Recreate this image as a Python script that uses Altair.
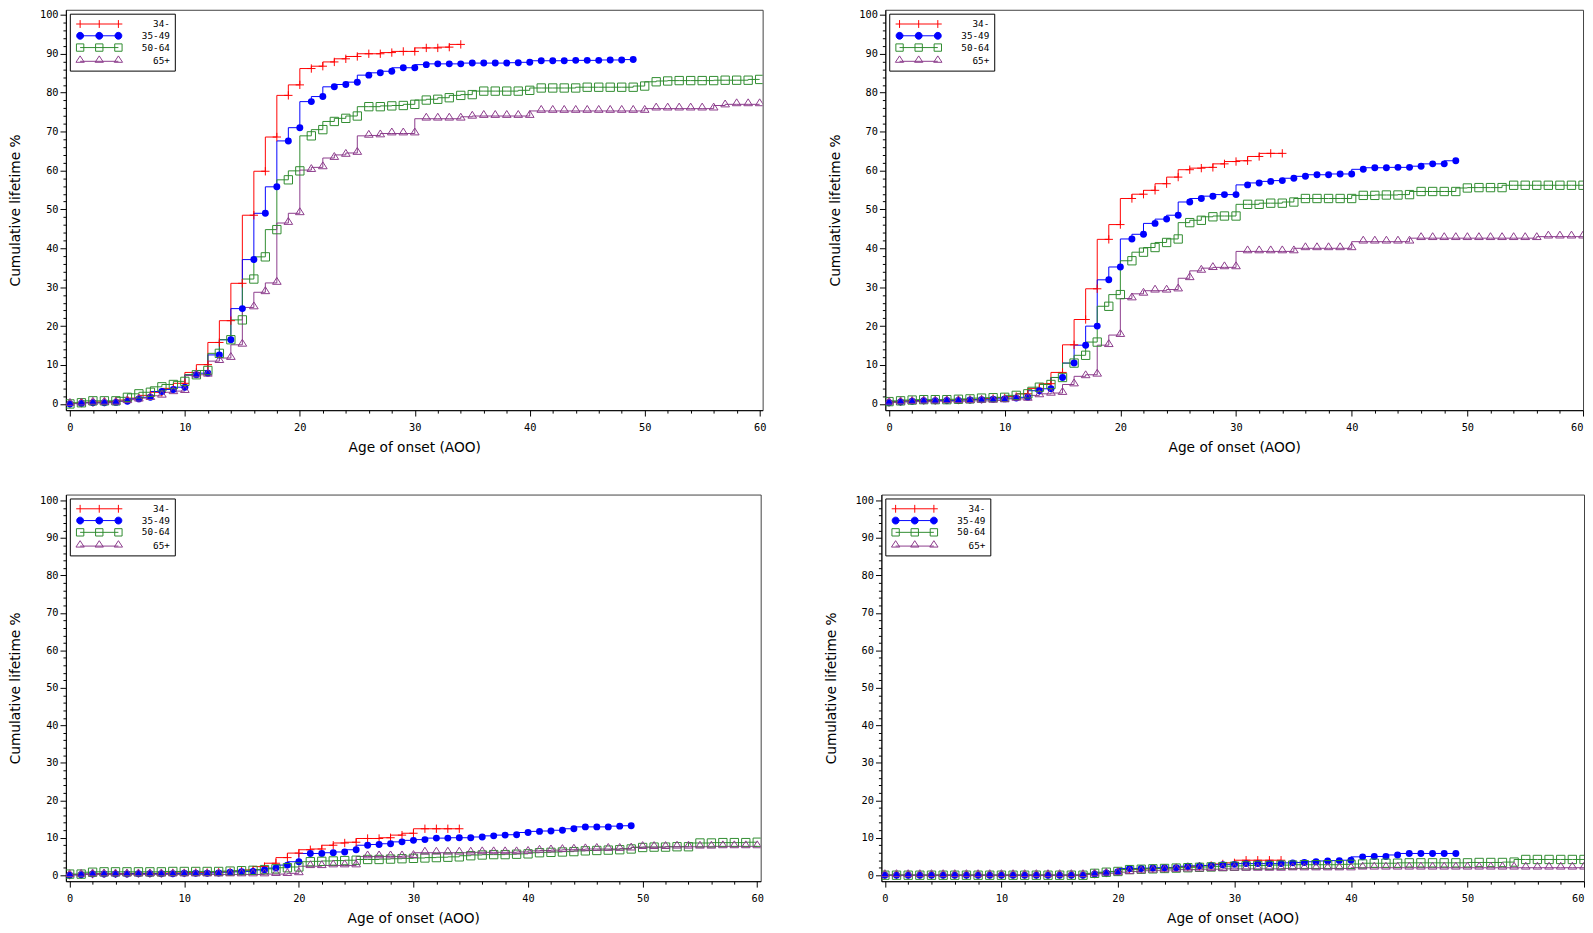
import altair as alt
import pandas as pd

GROUPS = ["34-", "35-49", "50-64", "65+"]
COLORS = ["#ff0000", "#0000ff", "#2e8b2e", "#8b3a8b"]
MARKERS = ["M-1,0H1M0,-1V1", "circle", "square", "M0,-1.4L1.1,0.35H-1.1Z"]
MARKER_FILLED = [False, True, False, False]
MARKER_FILL = ["transparent", "#0000ff", "transparent", "transparent"]
MARKER_SIZE = [72, 50, 72, 64]

X_MAJOR = [0, 10, 20, 30, 40, 50, 60]
X_MINOR = [v for v in range(0, 61, 2) if v % 10]
Y_MAJOR = [0, 10, 20, 30, 40, 50, 60, 70, 80, 90, 100]
Y_MINOR = [v for v in range(0, 101, 2) if v % 10]

X_TITLE = "Age of onset (AOO)"
Y_TITLE = "Cumulative lifetime %"

# ---------------- panel 1 (top left) ----------------
P1_34 = [0.0, 0.2, 0.4, 0.5, 0.6, 1.0, 1.5, 2.2, 3.0, 4.0,
         5.3, 8.1, 10.1, 15.8, 21.4, 31.0, 48.5, 59.8, 68.6, 79.3,
         82.0, 86.2, 86.8, 87.9, 88.7, 89.3, 90.0, 90.0, 90.3, 90.6,
         90.6, 91.5, 91.5, 91.7, 92.4]
P1_35 = [0.0, 0.1, 0.3, 0.3, 0.4, 0.7, 1.3, 1.7, 3.2, 3.7,
         4.3, 7.5, 7.9, 12.6, 16.5, 24.5, 37.1, 49.0, 55.8, 67.6,
         71.0, 77.7, 79.0, 81.5, 82.1, 82.7, 84.5, 85.1, 85.5, 86.4,
         86.4, 87.2, 87.4, 87.4, 87.4, 87.6, 87.6, 87.6, 87.6, 87.7,
         87.8, 88.2, 88.2, 88.2, 88.3, 88.3, 88.3, 88.4, 88.4, 88.5]
P1_50 = [0.0, 0.3, 0.8, 0.8, 0.8, 1.7, 2.6, 3.0, 4.4, 5.0,
         5.8, 7.5, 8.6, 13.0, 16.5, 21.6, 32.1, 37.8, 44.8, 57.6,
         59.9, 68.9, 70.5, 72.6, 73.4, 74.0, 76.4, 76.4, 76.6, 76.7,
         77.0, 78.1, 78.3, 78.7, 79.3, 79.5, 80.4, 80.4, 80.4, 80.4,
         80.6, 81.2, 81.2, 81.2, 81.2, 81.4, 81.4, 81.4, 81.4, 81.4,
         81.7, 82.8, 83.0, 83.1, 83.1, 83.1, 83.1, 83.2, 83.2, 83.2, 83.4]
P1_65 = [0.0, 0.1, 0.3, 0.3, 0.3, 0.7, 1.1, 1.5, 2.1, 3.0,
         3.3, 7.3, 7.5, 11.0, 11.8, 15.2, 24.8, 28.7, 31.1, 46.5,
         49.0, 60.1, 60.8, 63.2, 64.0, 64.5, 68.9, 69.0, 69.5, 69.5,
         69.5, 73.3, 73.3, 73.3, 73.3, 73.8, 74.0, 74.0, 74.0, 74.0,
         74.0, 75.3, 75.3, 75.3, 75.3, 75.3, 75.3, 75.3, 75.3, 75.3,
         75.3, 75.9, 75.9, 75.9, 75.9, 75.9, 75.9, 76.7, 77.0, 77.0, 77.0]

# ---------------- panel 2 (top right) ----------------
P2_34 = [0.4, 0.6, 0.8, 0.9, 0.9, 1.0, 1.0, 1.1, 1.2, 1.4,
         1.6, 1.9, 2.6, 4.0, 5.2, 8.1, 15.2, 21.7, 29.6, 42.3,
         46.1, 52.8, 53.9, 54.9, 56.6, 58.3, 60.2, 60.6, 60.8, 61.7,
         62.3, 62.5, 63.6, 64.4, 64.4]
P2_35 = [0.3, 0.5, 0.7, 0.8, 0.8, 0.9, 0.9, 1.0, 1.1, 1.2,
         1.3, 1.5, 1.7, 3.4, 3.9, 6.8, 10.5, 15.1, 20.0, 31.9,
         35.2, 42.4, 43.6, 46.4, 47.5, 48.5, 51.9, 52.8, 53.4, 53.8,
         53.8, 56.3, 56.8, 57.2, 57.4, 58.0, 58.5, 58.9, 58.9, 59.1,
         59.1, 60.3, 60.7, 60.7, 60.8, 60.8, 61.1, 61.7, 61.7, 62.5]
P2_50 = [0.6, 0.8, 1.0, 1.1, 1.1, 1.1, 1.2, 1.3, 1.5, 1.6,
         1.7, 2.2, 2.6, 4.3, 5.0, 6.8, 10.5, 12.5, 15.9, 25.1,
         28.1, 36.8, 39.0, 40.2, 41.5, 42.4, 46.6, 47.2, 48.1, 48.3,
         48.3, 51.3, 51.3, 51.6, 51.6, 51.9, 52.8, 52.8, 52.8, 52.8,
         52.8, 53.6, 53.6, 53.7, 53.7, 53.8, 54.6, 54.6, 54.6, 54.6,
         55.5, 55.6, 55.6, 55.6, 56.2, 56.2, 56.2, 56.2, 56.2, 56.2, 56.2]
P2_65 = [0.3, 0.4, 0.5, 0.6, 0.6, 0.7, 0.7, 0.7, 0.8, 0.8,
         0.9, 1.3, 1.3, 2.2, 2.6, 2.8, 5.0, 7.1, 7.5, 15.1,
         17.7, 27.1, 28.3, 29.1, 29.1, 29.4, 32.3, 34.2, 34.9, 35.1,
         35.1, 39.2, 39.2, 39.2, 39.2, 39.2, 40.0, 40.0, 40.0, 40.0,
         40.0, 41.7, 41.7, 41.7, 41.7, 41.7, 42.6, 42.6, 42.6, 42.6,
         42.6, 42.6, 42.6, 42.6, 42.6, 42.6, 42.6, 43.0, 43.0, 43.0, 43.0]

# ---------------- panel 3 (bottom left) ----------------
P3_34 = [0.0, 0.2, 0.3, 0.4, 0.4, 0.4, 0.5, 0.5, 0.5, 0.6,
         0.6, 0.7, 0.7, 0.8, 0.9, 1.1, 1.4, 2.3, 3.2, 4.7,
         5.9, 6.8, 7.0, 8.0, 8.6, 8.8, 9.8, 9.8, 10.0, 10.7,
         11.2, 12.4, 12.4, 12.4, 12.4]
P3_35 = [0.0, 0.1, 0.3, 0.3, 0.3, 0.3, 0.4, 0.4, 0.4, 0.4,
         0.5, 0.5, 0.5, 0.6, 0.8, 0.9, 1.0, 1.4, 1.9, 2.7,
         3.6, 5.8, 5.8, 6.0, 6.2, 6.8, 8.0, 8.2, 8.4, 8.9,
         9.3, 9.5, 9.9, 9.9, 10.0, 10.0, 10.2, 10.5, 10.7, 10.8,
         11.4, 11.7, 11.8, 12.0, 12.4, 12.9, 12.9, 12.9, 13.1, 13.2]
P3_50 = [0.3, 0.3, 0.8, 0.9, 0.9, 0.9, 0.9, 0.9, 0.9, 1.0,
         1.0, 1.0, 1.0, 1.0, 1.1, 1.2, 1.3, 1.5, 1.7, 2.0,
         2.2, 3.6, 3.7, 3.8, 3.9, 4.0, 4.2, 4.2, 4.3, 4.4,
         4.5, 4.6, 4.7, 4.8, 4.9, 5.2, 5.4, 5.5, 5.5, 5.6,
         5.7, 6.0, 6.1, 6.2, 6.3, 6.5, 6.6, 6.7, 6.8, 7.0,
         7.4, 7.5, 7.5, 7.6, 7.6, 8.6, 8.6, 8.7, 8.7, 8.7, 8.8]
P3_65 = [0.0, 0.1, 0.2, 0.2, 0.2, 0.2, 0.2, 0.2, 0.2, 0.2,
         0.2, 0.2, 0.2, 0.2, 0.2, 0.2, 0.2, 0.2, 0.3, 0.3,
         0.5, 2.4, 2.4, 2.6, 2.6, 2.6, 5.0, 5.0, 5.0, 5.0,
         5.1, 6.0, 6.0, 6.0, 6.0, 6.0, 6.1, 6.1, 6.1, 6.1,
         6.2, 6.5, 6.6, 6.7, 6.8, 6.9, 7.0, 7.0, 7.0, 7.1,
         7.5, 7.5, 7.5, 7.6, 7.6, 7.6, 7.6, 7.7, 7.7, 7.7, 7.7]

# ---------------- panel 4 (bottom right) ----------------
P4_34 = [0.0, 0.0, 0.0, 0.0, 0.0, 0.0, 0.0, 0.0, 0.0, 0.0,
         0.0, 0.0, 0.0, 0.0, 0.0, 0.0, 0.0, 0.0, 0.3, 0.6,
         1.0, 1.5, 1.6, 1.7, 1.8, 2.0, 2.2, 2.4, 2.6, 3.0,
         3.3, 4.0, 4.0, 4.0, 4.0]
P4_35 = [0.0, 0.0, 0.0, 0.0, 0.0, 0.0, 0.0, 0.0, 0.0, 0.0,
         0.0, 0.0, 0.0, 0.0, 0.0, 0.0, 0.0, 0.0, 0.3, 0.6,
         0.9, 1.8, 1.8, 1.9, 2.0, 2.0, 2.4, 2.5, 2.6, 2.8,
         2.9, 3.1, 3.1, 3.1, 3.1, 3.3, 3.4, 3.6, 3.8, 3.9,
         4.0, 4.9, 5.0, 5.0, 5.4, 5.8, 5.8, 5.8, 5.8, 5.8]
P4_50 = [0.0, 0.0, 0.0, 0.0, 0.0, 0.0, 0.0, 0.0, 0.0, 0.0,
         0.0, 0.0, 0.0, 0.0, 0.0, 0.0, 0.0, 0.0, 0.5, 0.8,
         1.0, 1.5, 1.6, 1.7, 1.8, 1.9, 2.0, 2.1, 2.2, 2.3,
         2.4, 2.5, 2.6, 2.6, 2.7, 2.7, 2.8, 2.8, 2.8, 2.8,
         2.9, 3.0, 3.2, 3.2, 3.2, 3.3, 3.3, 3.3, 3.3, 3.3,
         3.3, 3.4, 3.4, 3.4, 3.5, 4.2, 4.2, 4.2, 4.2, 4.2, 4.2]
P4_65 = [0.0, 0.0, 0.0, 0.0, 0.0, 0.0, 0.0, 0.0, 0.0, 0.0,
         0.0, 0.0, 0.0, 0.0, 0.0, 0.0, 0.0, 0.0, 0.2, 0.4,
         0.5, 0.8, 1.0, 1.2, 1.3, 1.4, 1.5, 1.5, 1.6, 1.6,
         1.7, 1.7, 1.7, 1.7, 1.7, 1.8, 1.8, 1.8, 1.8, 1.8,
         1.8, 2.0, 2.0, 2.0, 2.0, 2.0, 2.0, 2.0, 2.0, 2.0,
         2.0, 2.0, 2.0, 2.0, 2.0, 2.0, 2.0, 2.0, 2.0, 2.0, 2.0]

# legend symbols: a short line with three markers (custom paths, unit = 5px)
LEG_PATHS = [
    "M0,0H7.8M0,-0.8V0.8M3.9,-0.8V0.8M7.8,-0.8V0.8M-0.8,0H0M7.8,0H8.6",
    "M0,0H7.8M-0.7,0A0.7,0.7 0 1,0 0.7,0A0.7,0.7 0 1,0 -0.7,0ZM3.2,0A0.7,0.7 0 1,0 4.6,0A0.7,0.7 0 1,0 3.2,0ZM7.1,0A0.7,0.7 0 1,0 8.5,0A0.7,0.7 0 1,0 7.1,0Z",
    "M0,0H7.8M-0.75,-0.75H0.75V0.75H-0.75ZM3.15,-0.75H4.65V0.75H3.15ZM7.05,-0.75H8.55V0.75H7.05Z",
    "M0,0H7.8M0,-1.1L0.85,0.2H-0.85ZM3.9,-1.1L4.75,0.2H3.05ZM7.8,-1.1L8.65,0.2H6.95Z",
]

LEGEND = alt.Legend(title=None, orient="top-left", offset=4, padding=5, rowPadding=0,
                    symbolSize=100, symbolStrokeWidth=1, labelFont="DejaVu Sans Mono",
                    labelFontSize=9.5, labelColor="black", labelOffset=86, labelAlign="right",
                    strokeColor="black", fillColor="white", cornerRadius=0)


def panel(series, xdom, ydom, w, h):
    rows = []
    for g, vals in zip(GROUPS, series):
        for age, v in enumerate(vals):
            rows.append({"age": age, "value": v, "group": g})
    df = pd.DataFrame(rows)
    xs = alt.Scale(domain=xdom, nice=False, zero=False)
    ys = alt.Scale(domain=ydom, nice=False, zero=False)
    color = alt.Color("group:N", scale=alt.Scale(domain=GROUPS, range=COLORS), legend=LEGEND)
    base = alt.Chart(df)
    lines = base.mark_line(interpolate="step-before", strokeWidth=1, clip=True).encode(
        x=alt.X("age:Q", scale=xs, axis=alt.Axis(values=X_MAJOR, title=X_TITLE, orient="bottom",
                                                 tickSize=6, labelPadding=7, titlePadding=8,
                                                 labelFlush=True, labelOverlap=False, grid=False)),
        y=alt.Y("value:Q", scale=ys, axis=alt.Axis(values=Y_MAJOR, title=Y_TITLE, orient="left",
                                                   tickSize=6, labelPadding=2, titlePadding=17,
                                                   labelOverlap=False, grid=False)),
        color=color,
    )
    layers = [lines]
    for i, g in enumerate(GROUPS):
        if i == 0:
            xa = alt.Axis(values=X_MINOR, title=None, orient="bottom", labels=False,
                          domain=False, tickSize=3, grid=False)
            ya = alt.Axis(values=Y_MINOR, title=None, orient="left", labels=False,
                          domain=False, tickSize=3, grid=False)
        else:
            xa = None
            ya = None
        pts = base.transform_filter(alt.datum.group == g).mark_point(
            shape=MARKERS[i], color=COLORS[i], filled=MARKER_FILLED[i], size=MARKER_SIZE[i],
            strokeWidth=1, opacity=1, clip=True).encode(
            x=alt.X("age:Q", scale=xs, axis=xa),
            y=alt.Y("value:Q", scale=ys, axis=ya),
        )
        layers.append(pts)
    # legend carrier: no rows pass the filter, it only supplies the legend's symbols
    key = base.transform_filter("false").mark_point(filled=False, strokeWidth=1, opacity=1).encode(
        x=alt.X("age:Q", scale=xs, axis=None),
        y=alt.Y("value:Q", scale=ys, axis=None),
        color=color,
        shape=alt.Shape("group:N", scale=alt.Scale(domain=GROUPS, range=LEG_PATHS), legend=LEGEND),
        fill=alt.Fill("group:N", scale=alt.Scale(domain=GROUPS, range=MARKER_FILL), legend=None),
    )
    layers.append(key)
    return alt.layer(*layers).resolve_axis(x="independent", y="independent").properties(
        width=w, height=h)


def indep(c):
    return c.resolve_scale(color="independent", shape="independent",
                           fill="independent").resolve_legend(color="independent",
                                                              shape="independent")


p1 = panel([P1_34, P1_35, P1_50, P1_65], [-0.35, 60.26], [-1.6, 101.3], 710, 408)
p2 = panel([P2_34, P2_35, P2_50, P2_65], [-0.32, 60.0], [-1.6, 101.3], 711, 408)
p3 = panel([P3_34, P3_35, P3_50, P3_65], [-0.33, 60.3], [-1.6, 101.6], 708, 394)
p4 = panel([P4_34, P4_35, P4_50, P4_65], [-0.3, 60.0], [-1.6, 101.6], 716, 394)
top = indep(alt.hconcat(p1, p2, spacing=62))
bottom = indep(alt.hconcat(p3, p4, spacing=60))
chart = indep(alt.vconcat(top, bottom, spacing=39))
chart = chart.configure(background="white").configure_view(stroke="#404040", strokeWidth=1).configure_axis(
    labelFont="DejaVu Sans Mono", labelFontSize=10.5, labelColor="black",
    domainColor="black", tickColor="black", domainWidth=1, tickWidth=1,
    titleFont="DejaVu Sans", titleFontSize=14, titleFontWeight="normal", titleColor="black")
chart = chart.properties(padding={"left": 0, "top": -8, "right": 0, "bottom": 0})

chart.save("out.html", embed_options={"renderer": "svg", "actions": False})
